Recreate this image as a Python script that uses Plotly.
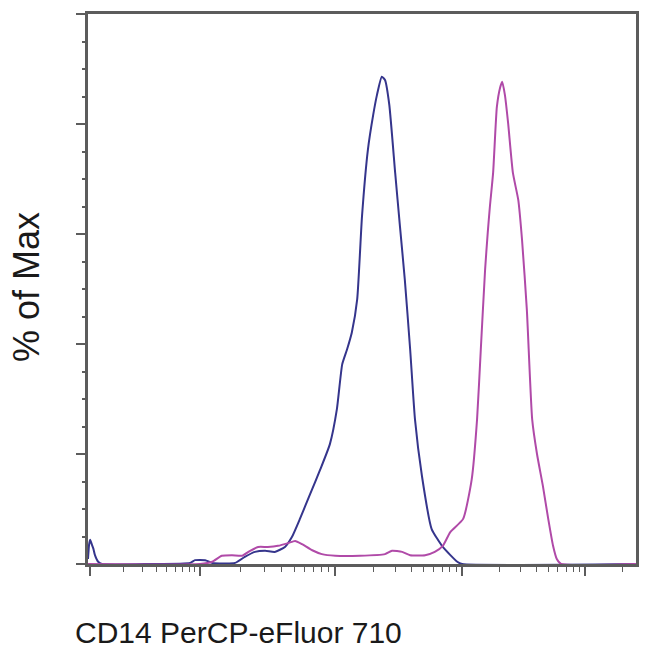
import numpy as np
import plotly.graph_objects as go

# Channel scale (0-1024, biexponential display) and % of Max
blue_x = [0, 2, 4, 7, 10, 13, 19, 26, 116, 191, 200, 219, 232, 275, 293, 312, 331, 349, 368, 381,
          396, 415, 434, 452, 465, 475, 484, 493, 503, 512, 523, 533, 540, 549, 555, 563,
          574, 583, 592, 602, 611, 624, 642, 663, 690, 699, 1024]
blue_y = [0.9, 3.5, 4.4, 3.6, 2.8, 1.6, 0.4, 0, 0, 0.2, 0.7, 0.7, 0.2, 0.2, 1.3, 2.2, 2.4, 2.2, 3.1, 4.9,
          8.2, 12.7, 17.2, 21.8, 28.1, 36.3, 39.0, 42.1, 48.1, 63.2, 75.3, 81.7, 85.3, 88.6, 88.0, 83.5,
          71.1, 61.3, 51.7, 39.0, 26.3, 16.0, 6.4, 3.1, 0.4, 0, 0]

pink_x = [0, 209, 232, 250, 269, 288, 303, 318, 336, 355, 374, 387, 400, 419, 437, 462, 508,
          555, 568, 587, 602, 630, 648, 663, 677, 701, 717, 727, 734, 742, 747, 751, 757,
          764, 770, 774, 779, 785, 794, 804, 811, 820, 830, 839, 850, 860, 869, 876, 884, 1024]
pink_y = [0, 0, 0.4, 1.5, 1.6, 1.5, 2.4, 3.1, 3.1, 3.3, 3.8, 4.2, 3.6, 2.5, 1.8, 1.5, 1.5,
          1.8, 2.4, 2.2, 1.6, 1.6, 2.2, 3.3, 5.8, 8.2, 15.4, 26.3, 39.0, 53.5, 60.3, 65.0, 71.1,
          83.1, 86.6, 87.7, 85.3, 80.2, 71.1, 66.2, 59.0, 46.3, 26.3, 20.0, 14.2, 8.2, 3.3, 0.9, 0, 0]

# decade positions on the channel scale (0, 10^2, 10^3, 10^4, 10^5)
major_ticks = [4, 209, 461, 699, 929]
decade_width = [205, 252, 238, 230, 230]

minor_ticks = []
for start, w in zip(major_ticks, decade_width):
    for k in range(2, 10):
        v = start + np.log10(k) * w
        if v < 1024:
            minor_ticks.append(float(v))

fig = go.Figure()
fig.add_trace(go.Scatter(x=blue_x, y=blue_y, mode="lines",
                         line=dict(color="#35358c", width=2, shape="spline", smoothing=0.5),
                         showlegend=False))
fig.add_trace(go.Scatter(x=pink_x, y=pink_y, mode="lines",
                         line=dict(color="#b04aa8", width=2, shape="spline", smoothing=0.5),
                         showlegend=False))

axis_col = "#5c5c5c"
fig.update_layout(
    width=650, height=650,
    margin=dict(l=88, r=14, t=14, b=86),
    paper_bgcolor="white", plot_bgcolor="white",
    font=dict(family="Liberation Sans, Arial, sans-serif", color="#1a1a1a"),
    xaxis=dict(range=[0, 1024], showgrid=False, zeroline=False,
               showline=True, linecolor=axis_col, linewidth=2.5, mirror=True,
               tickmode="array", tickvals=major_ticks, showticklabels=False,
               ticks="outside", ticklen=9, tickwidth=1.5, tickcolor=axis_col,
               minor=dict(tickmode="array", tickvals=minor_ticks, ticks="outside",
                          ticklen=5, tickwidth=1.2, tickcolor=axis_col)),
    yaxis=dict(range=[0, 100], showgrid=False, zeroline=False,
               showline=True, linecolor=axis_col, linewidth=2.5, mirror=True,
               tickmode="array", tickvals=[0, 20, 40, 60, 80, 100], showticklabels=False,
               ticks="outside", ticklen=9, tickwidth=1.5, tickcolor=axis_col,
               minor=dict(tickmode="array", tickvals=[v for v in range(5, 100, 5) if v % 20],
                          ticks="outside", ticklen=3, tickwidth=2, tickcolor=axis_col)),
    annotations=[
        dict(text="CD14 PerCP-eFluor 710", xref="paper", yref="paper",
             x=-0.027, y=-0.125, xanchor="left", yanchor="middle", showarrow=False,
             font=dict(size=30, color="#1a1a1a")),
        dict(text="% of Max", xref="paper", yref="paper", textangle=-90,
             x=-0.111, y=0.504, xanchor="center", yanchor="middle", showarrow=False,
             font=dict(size=36, color="#1a1a1a")),
    ],
)

fig.write_html("out.html", config={"displayModeBar": False},
               post_script="document.body.style.margin='0';document.body.style.overflow='hidden';")
